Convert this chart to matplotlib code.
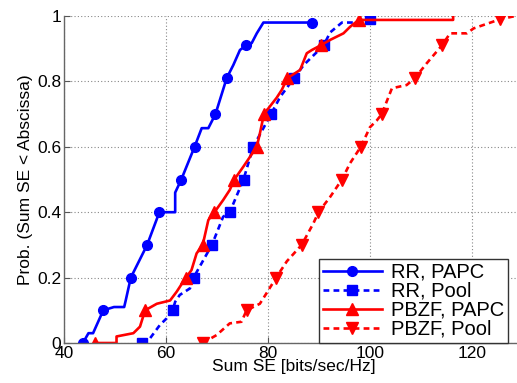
import numpy as np
import matplotlib
matplotlib.use("Agg")
import matplotlib.pyplot as plt

plt.rcParams['font.family'] = ['Liberation Sans', 'DejaVu Sans']

# CDF curves of the sum spectral efficiency (knots along each staircase)
rr_papc_x = [43.7, 44.8, 45.7, 47.7, 49.8, 51.8, 52.1, 53.1, 56.3, 58.7, 61.8, 61.8, 63.0,
             65.6, 67.0, 68.3, 69.7, 71.9, 73.2, 74.5, 75.7, 76.8, 77.8, 79.1, 88.6]
rr_papc_y = [0.0, 0.03, 0.03, 0.10, 0.11, 0.11, 0.13, 0.20, 0.30, 0.40, 0.40, 0.46, 0.50,
             0.60, 0.657, 0.657, 0.70, 0.81, 0.85, 0.896, 0.91, 0.917, 0.947, 0.98, 0.98]
rr_papc_marks = [0, 3, 7, 8, 9, 12, 13, 16, 17, 20, 24]

rr_pool_x = [55.2, 56.9, 58.8, 60.1, 61.3, 61.8, 62.7, 64.7, 65.4, 69.0, 69.9, 71.2, 72.5,
             75.2, 77.1, 80.6, 82.4, 85.1, 87.0, 90.9, 92.2, 94.5, 99.0, 100.0]
rr_pool_y = [0.0, 0.015, 0.055, 0.075, 0.10, 0.126, 0.147, 0.167, 0.20, 0.30, 0.335, 0.386, 0.40,
             0.50, 0.60, 0.70, 0.753, 0.81, 0.85, 0.91, 0.95, 0.98, 0.98, 0.99]
rr_pool_marks = [0, 4, 8, 9, 12, 13, 14, 15, 17, 19, 23]

pbzf_papc_x = [46.1, 50.3, 50.3, 53.6, 54.9, 55.9, 58.2, 60.8, 62.1, 63.9, 65.0, 66.0, 67.2,
               68.3, 69.5, 71.2, 72.5, 73.4, 75.2, 77.8, 78.4, 79.2, 81.7, 82.7, 83.8, 86.3,
               87.6, 88.6, 90.3, 92.2, 94.8, 96.1, 97.8, 116.3, 116.3]
pbzf_papc_y = [0.0, 0.0, 0.02, 0.03, 0.05, 0.10, 0.12, 0.13, 0.157, 0.20, 0.223, 0.274, 0.30,
               0.376, 0.40, 0.437, 0.468, 0.50, 0.54, 0.60, 0.64, 0.70, 0.75, 0.774, 0.81, 0.835,
               0.886, 0.896, 0.91, 0.927, 0.947, 0.967, 0.988, 0.988, 1.0]
pbzf_papc_marks = [0, 5, 9, 12, 14, 17, 19, 21, 24, 28, 32]

pbzf_pool_x = [67.2, 69.9, 72.5, 74.8, 75.8, 78.4, 79.7, 81.6, 83.7, 86.6, 88.9, 89.9, 92.2,
               94.5, 96.1, 98.2, 100.0, 101.3, 102.3, 104.3, 107.2, 108.8, 111.1, 114.1, 115.7,
               119.0, 120.3, 124.2, 125.5, 128.5]
pbzf_pool_y = [0.0, 0.024, 0.06, 0.065, 0.10, 0.12, 0.152, 0.20, 0.25, 0.30, 0.366, 0.40, 0.447,
               0.50, 0.55, 0.60, 0.66, 0.68, 0.70, 0.779, 0.789, 0.81, 0.855, 0.91, 0.947,
               0.947, 0.962, 0.983, 0.99, 1.0]
pbzf_pool_marks = [0, 4, 7, 9, 11, 13, 15, 18, 21, 23, 28]

x_ticks = [40, 60, 80, 100, 120]
y_ticks = [0, 0.2, 0.4, 0.6, 0.8, 1]
y_tick_labels = ['0', '0.2', '0.4', '0.6', '0.8', '1']

fig = plt.figure(figsize=(5.17, 3.83), dpi=100)
ax = fig.add_axes([64 / 517, 40 / 383, 459 / 517, 327 / 383])

dash = (0, (2.2, 1.6))
ax.plot(rr_papc_x, rr_papc_y, color='#0000ff', lw=1.9, marker='o', ms=7,
        markevery=rr_papc_marks, label='RR, PAPC')
ax.plot(rr_pool_x, rr_pool_y, color='#0000ff', lw=1.9, ls=dash, marker='s', ms=6.5,
        markevery=rr_pool_marks, label='RR, Pool')
ax.plot(pbzf_papc_x, pbzf_papc_y, color='#ff0000', lw=1.9, marker='^', ms=8,
        markevery=pbzf_papc_marks, label='PBZF, PAPC')
ax.plot(pbzf_pool_x, pbzf_pool_y, color='#ff0000', lw=1.9, ls=dash, marker='v', ms=8,
        markevery=pbzf_pool_marks, label='PBZF, Pool')

ax.set_xlim(40, 130)
ax.set_ylim(0, 1)
ax.set_xticks(x_ticks)
ax.set_yticks(y_ticks)
ax.set_yticklabels(y_tick_labels)
ax.tick_params(direction='in', length=4, labelsize=12.5, color='#555555', pad=2)
ax.grid(True, ls=(0, (1, 2)), color='#888888', lw=0.8)
for side in ('top', 'right'):
    ax.spines[side].set_visible(False)
for side in ('left', 'bottom'):
    ax.spines[side].set_color('#666666')
    ax.spines[side].set_linewidth(1.0)

ax.set_xlabel('Sum SE [bits/sec/Hz]', fontsize=12.5, labelpad=-1)
ax.set_ylabel('Prob. (Sum SE < Abscissa)', fontsize=12.5, labelpad=3)

leg = ax.legend(loc='lower right', bbox_to_anchor=(0.967, 0.0), borderaxespad=0,
                fontsize=14.5, fancybox=False, framealpha=1, edgecolor='#333333',
                labelspacing=0.0, handlelength=2.9, handletextpad=0.45, borderpad=0.2)
leg.get_frame().set_linewidth(1.0)

fig.savefig('out.png', dpi=100)
